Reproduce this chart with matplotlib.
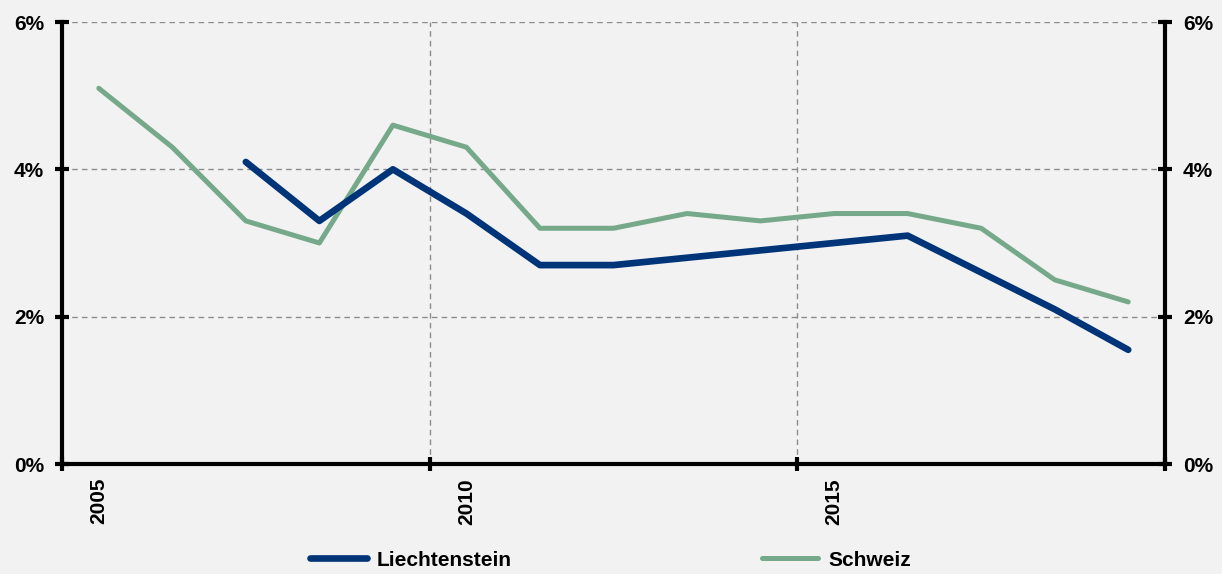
import numpy as np
import matplotlib.pyplot as plt
from matplotlib.ticker import FuncFormatter

years = [2005, 2006, 2007, 2008, 2009, 2010, 2011, 2012, 2013, 2014, 2015, 2016, 2017, 2018, 2019]
liechtenstein = [None, None, 4.1, 3.3, 4.0, 3.4, 2.7, 2.7, 2.8, 2.9, 3.0, 3.1, 2.6, 2.1, 1.55]
schweiz = [5.1, 4.3, 3.3, 3.0, 4.6, 4.3, 3.2, 3.2, 3.4, 3.3, 3.4, 3.4, 3.2, 2.5, 2.2]
year_labels = ["2005", "2010", "2015"]

bg = "#f2f2f2"
plt.rcParams['font.family'] = ['Liberation Sans', 'DejaVu Sans']
plt.rcParams['font.weight'] = 'bold'

fig = plt.figure(figsize=(12.22, 5.74), dpi=100, facecolor=bg)
ax = fig.add_axes([62 / 1222, 1 - 464 / 574, (1165 - 62) / 1222, (464 - 22) / 574])
ax.set_facecolor(bg)

# values belong to the middle of each year (category style axis)
x = np.array(years) + 0.5
li = np.array([np.nan if v is None else v for v in liechtenstein])
line_ch, = ax.plot(x, schweiz, color="#76a98a", linewidth=3.6, solid_capstyle='round', label="Schweiz", zorder=3)
line_li, = ax.plot(x, li, color="#003478", linewidth=4.8, solid_capstyle='round', label="Liechtenstein", zorder=4)

ax.set_xlim(2005, 2020)
ax.set_ylim(0, 6)

ax.set_yticks([0, 2, 4, 6])
ax.yaxis.set_major_formatter(FuncFormatter(lambda v, p: f"{v:.0f}%"))
ax.set_xticks([2005, 2010, 2015, 2020])
ax.set_xticklabels([])
ax.set_xticks([int(s) + 0.5 for s in year_labels], minor=True)
ax.set_xticklabels(year_labels, minor=True, rotation=90, fontsize=15, fontweight='bold')

for v in [2, 4, 6]:
    ax.axhline(v, color="#8c8c8c", linewidth=1, linestyle=(0, (4, 3)), zorder=1)
for v in [2010, 2015]:
    ax.axvline(v, color="#8c8c8c", linewidth=1, linestyle=(0, (4, 3)), zorder=1)

for s in ['left', 'right', 'bottom']:
    ax.spines[s].set_linewidth(3)
ax.spines['top'].set_visible(False)

ax.tick_params(axis='both', which='major', direction='inout', length=10, width=3, labelsize=15, pad=8)
ax.tick_params(axis='x', which='minor', length=0, pad=10)
ax.tick_params(axis='y', right=True, labelright=True)

fig.legend(handles=[line_li, line_ch], loc='center', bbox_to_anchor=(0.5, 1 - 560 / 574), ncol=2,
           frameon=False, fontsize=15, handlelength=2.7, handletextpad=0.5, columnspacing=12)

fig.savefig("out.png", dpi=100, facecolor=bg)
